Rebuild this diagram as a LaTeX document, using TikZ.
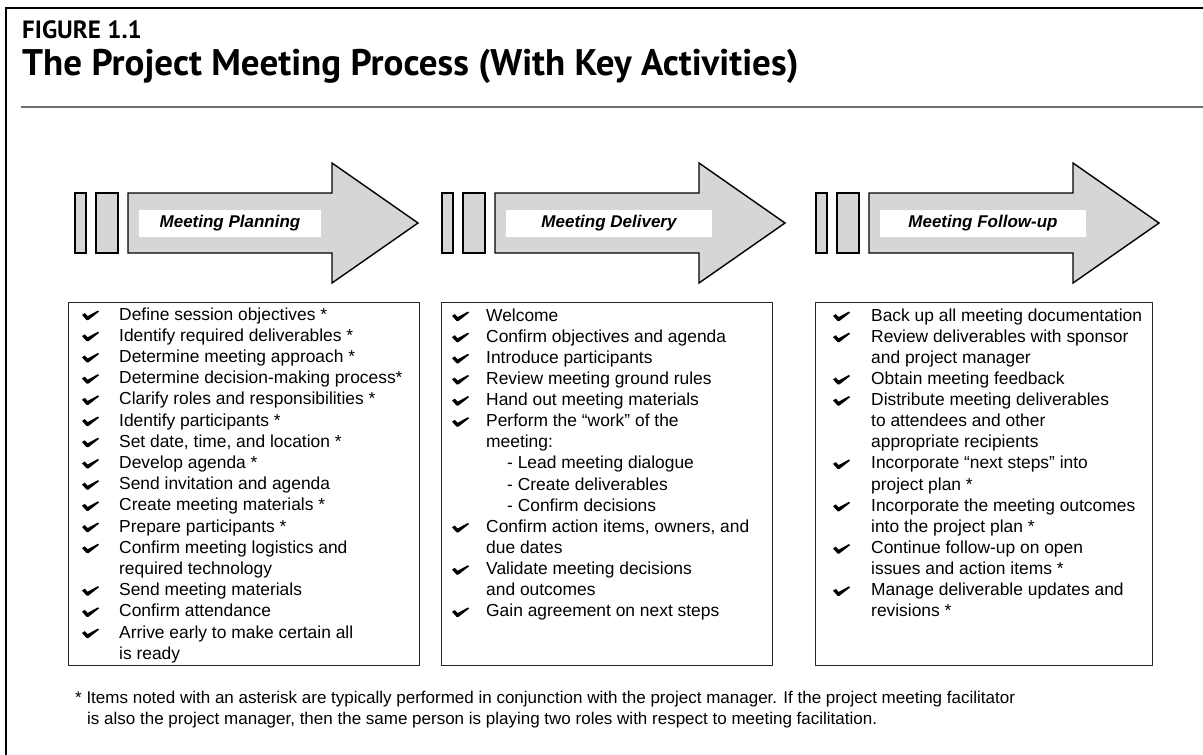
\documentclass[tikz,border=0pt]{standalone}
\usepackage{fontspec}
\setmainfont{Liberation Sans}
\newfontfamily\headfont{PT Sans}

\definecolor{arrowgray}{HTML}{D6D6D6}
\definecolor{rulegray}{HTML}{6E6E6E}

\tikzset{
  phase/.style={draw=black, line width=1.4pt, fill=arrowgray, line join=miter},
  phaselabel/.style={fill=white, inner sep=0pt, font=\fontsize{17}{20}\selectfont\bfseries\itshape},
  listbox/.style={draw=black!85, line width=1.2pt, inner sep=0pt, anchor=north west},
  item/.style={anchor=base west, inner sep=0pt, font=\fontsize{17.4}{21}\selectfont},
  note/.style={anchor=base west, inner sep=0pt, font=\fontsize{17}{21}\selectfont},
  tick/.pic={
    \fill (0,4.4) -- (2.8,2.6) -- (5.6,5.6) -- (16,0) -- (17,1.2) -- (6.4,9.5) -- (4.6,9.5) -- cycle;
  }
}

\begin{document}
\begin{tikzpicture}[x=1pt, y=-1pt]
  \useasboundingbox (0,0) rectangle (1203,755);
  \draw[line width=1.3pt] (1203,8) -- (6,8) -- (6,755);

  \node[anchor=base west, inner sep=0pt, font=\fontsize{25}{28}\headfont\bfseries] (fignum) at (22,38) {FIGURE 1.1};
  \node[anchor=base west, inner sep=0pt, font=\fontsize{37}{40}\headfont\bfseries] (title) at (22,75)
    {The Project Meeting Process (With Key Activities)};
  \draw[rulegray, line width=2.6pt] (21,107) -- (1203,107);

  % the three phase arrows
  \foreach \ox/\lw/\name/\txt in {75/246/plan/Meeting Planning,
                                   442/270/deliv/Meeting Delivery,
                                   816/270/follow/Meeting Follow-up} {
    \begin{scope}[shift={(\ox,0)}]
      \draw[phase] (0,193) rectangle (11,253);
      \draw[phase] (21,193) rectangle (43,253);
      \draw[phase] (53,193) -- (257,193) -- (257,163) -- (343,223)
        -- (257,283) -- (257,253) -- (53,253) -- cycle;
      \node[phaselabel, minimum width={\lw-64}, minimum height=27] (\name-label)
        at ({(64+\lw)/2},223.5) {\txt};
    \end{scope}
  }

  \node[listbox, minimum width=351, minimum height=363] (plan) at (68,302) {};
  \node[listbox, minimum width=331, minimum height=363] (deliv) at (441,302) {};
  \node[listbox, minimum width=337, minimum height=363] (follow) at (815,302) {};

  % 1 = ticked item, 0 = wrapped line, 2 = sub-item
  \foreach \c/\t [count=\i from 0] in {
    1/Define session objectives *,
    1/Identify required deliverables *,
    1/Determine meeting approach *,
    1/Determine decision-making process*,
    1/Clarify roles and responsibilities *,
    1/Identify participants *,
    1/{Set date, time, and location *},
    1/Develop agenda *,
    1/Send invitation and agenda,
    1/Create meeting materials *,
    1/Prepare participants *,
    1/Confirm meeting logistics and,
    0/required technology,
    1/Send meeting materials,
    1/Confirm attendance,
    1/Arrive early to make certain all,
    0/is ready} {
    \node[item] (plan-\i) at (119,{320+21.2*\i}) {\t};
    \ifnum\c=1 \pic at (82,{310.5+21.2*\i}) {tick}; \fi
  }

  \foreach \c/\t [count=\i from 0] in {
    1/Welcome,
    1/Confirm objectives and agenda,
    1/Introduce participants,
    1/Review meeting ground rules,
    1/Hand out meeting materials,
    1/Perform the “work” of the,
    0/meeting:,
    2/- Lead meeting dialogue,
    2/- Create deliverables,
    2/- Confirm decisions,
    1/{Confirm action items, owners, and},
    0/due dates,
    1/Validate meeting decisions,
    0/and outcomes,
    1/Gain agreement on next steps} {
    \node[item] (deliv-\i) at ({486+21*equal(\c,2)},{321+21.14*\i}) {\t};
    \ifnum\c=1 \pic at (452,{311.5+21.14*\i}) {tick}; \fi
  }

  \foreach \c/\t [count=\i from 0] in {
    1/Back up all meeting documentation,
    1/Review deliverables with sponsor,
    0/and project manager,
    1/Obtain meeting feedback,
    1/Distribute meeting deliverables,
    0/to attendees and other,
    0/appropriate recipients,
    1/Incorporate “next steps” into,
    0/project plan *,
    1/Incorporate the meeting outcomes,
    0/into the project plan *,
    1/Continue follow-up on open,
    0/issues and action items *,
    1/Manage deliverable updates and,
    0/revisions *} {
    \node[item] (follow-\i) at (871,{321+21.14*\i}) {\t};
    \ifnum\c=1 \pic at (833,{311.5+21.14*\i}) {tick}; \fi
  }

  \node[note] (note1) at (75,703) {* Items noted with an asterisk are typically performed in conjunction with the project manager. If the project meeting facilitator};
  \node[note] (note2) at (87,724) {is also the project manager, then the same person is playing two roles with respect to meeting facilitation.};
\end{tikzpicture}
\end{document}
